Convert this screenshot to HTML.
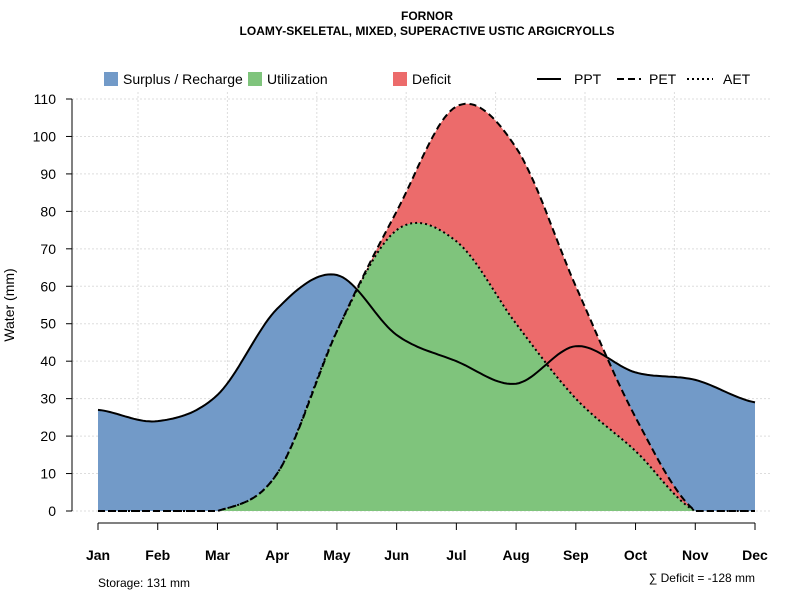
<!DOCTYPE html>
<html><head><meta charset="utf-8"><style>
body{margin:0;background:#fff;font-family:"Liberation Sans",sans-serif}
text{font-family:"Liberation Sans",sans-serif}
</style></head><body>
<svg id="c" width="800" height="600">
<text x="427" y="20" text-anchor="middle" font-size="12" font-weight="bold">FORNOR</text>
<text x="427" y="35" text-anchor="middle" font-size="12" font-weight="bold">LOAMY-SKELETAL, MIXED, SUPERACTIVE USTIC ARGICRYOLLS</text>
<g id="grid"></g>
<g id="areas"></g>
<g id="lines"></g>
<g id="axes"></g>
<text transform="translate(14,305) rotate(-90)" text-anchor="middle" font-size="14">Water (mm)</text>
<g font-size="14">
<rect x="104" y="72" width="14" height="14" fill="#729ac8"/>
<text x="123" y="84">Surplus / Recharge</text>
<rect x="248" y="72" width="14" height="14" fill="#7fc47c"/>
<text x="267" y="84">Utilization</text>
<rect x="393" y="72" width="14" height="14" fill="#ec6b6b"/>
<text x="412" y="84">Deficit</text>
<line x1="537" y1="79" x2="561" y2="79" stroke="#000" stroke-width="2"/>
<text x="574" y="84">PPT</text>
<line x1="617" y1="79" x2="641" y2="79" stroke="#000" stroke-width="2" stroke-dasharray="7,4"/>
<text x="649" y="84">PET</text>
<line x1="687" y1="79" x2="713" y2="79" stroke="#000" stroke-width="2" stroke-dasharray="2,3"/>
<text x="723" y="84">AET</text>
</g>
<text x="98" y="587" font-size="12">Storage: 131 mm</text>
<text x="755" y="582" text-anchor="end" font-size="12">∑ Deficit = -128 mm</text>
</svg>
<script>
const months=["Jan","Feb","Mar","Apr","May","Jun","Jul","Aug","Sep","Oct","Nov","Dec"];
const ppt=[27,24,31,54,63,47,40,34,44,37,35,29];
const pet=[0,0,0,10,48,80,108,97,60,25,0,0];
const aet=[0,0,0,10,48,75,72,50,30,16,0,0];
const yTicks=[0,10,20,30,40,50,60,70,80,90,100,110];
const NS="http://www.w3.org/2000/svg";
const X=i=>98+i*(755-98)/11, Y=v=>511-v*(412/110);
function mk(p,t,a){const e=document.createElementNS(NS,t);for(const k in a)e.setAttribute(k,a[k]);p.appendChild(e);return e;}
function interp(arr){const pts=[];const n=arr.length;for(let i=0;i<n-1;i++){const p0=arr[Math.max(i-1,0)],p1=arr[i],p2=arr[i+1],p3=arr[Math.min(i+2,n-1)];for(let s=0;s<20;s++){const t=s/20,t2=t*t,t3=t2*t;let v=0.5*((2*p1)+(-p0+p2)*t+(2*p0-5*p1+4*p2-p3)*t2+(-p0+3*p1-3*p2+p3)*t3);pts.push([i+t,Math.max(0,v)]);}}pts.push([n-1,arr[n-1]]);return pts;}
const g=document.getElementById('grid'),A=document.getElementById('areas'),L=document.getElementById('lines'),ax=document.getElementById('axes');
yTicks.forEach(v=>{const l=mk(g,'line',{x1:72,x2:770,y1:Y(v),y2:Y(v),stroke:'#ddd','stroke-dasharray':'2,2'});

});
for(let gx=138;gx<760;gx+=89.4){const l=mk(g,'line',{x1:gx,x2:gx,y1:92,y2:511,stroke:'#ddd','stroke-dasharray':'2,2'});

}
const P=interp(ppt),E=interp(pet),T=interp(aet);
const pstr=pts=>pts.map(p=>X(p[0]).toFixed(1)+','+Y(p[1]).toFixed(1)).join(' L');
const base='L'+X(11)+','+Y(0)+' L'+X(0)+','+Y(0)+'Z';
let a=mk(A,'path',{d:'M'+pstr(P)+base,fill:'#729ac8'});


a=mk(A,'path',{d:'M'+pstr(E)+' L'+pstr(T.slice().reverse())+'Z',fill:'#ec6b6b'});


a=mk(A,'path',{d:'M'+pstr(T)+base,fill:'#7fc47c'});


let ln=mk(L,'path',{d:'M'+pstr(P),fill:'none',stroke:'#000','stroke-width':2});


ln=mk(L,'path',{d:'M'+pstr(E),fill:'none',stroke:'#000','stroke-width':2,'stroke-dasharray':'7,4'});


ln=mk(L,'path',{d:'M'+pstr(T),fill:'none',stroke:'#000','stroke-width':2,'stroke-dasharray':'2,3'});


mk(ax,'line',{x1:72,x2:72,y1:Y(0),y2:Y(110),stroke:'#000'});
yTicks.forEach(v=>{mk(ax,'line',{x1:66,x2:72,y1:Y(v),y2:Y(v),stroke:'#000'});
const t=mk(ax,'text',{x:56,y:Y(v)+5,'text-anchor':'end','font-size':14});t.textContent=v;

});
mk(ax,'line',{x1:X(0),x2:X(11),y1:523,y2:523,stroke:'#000'});
months.forEach((m,i)=>{mk(ax,'line',{x1:X(i),x2:X(i),y1:523,y2:530,stroke:'#000'});
const t=mk(ax,'text',{x:X(i),y:560,'text-anchor':'middle','font-size':14,'font-weight':'bold'});t.textContent=m;

});
</script>
</body></html>
